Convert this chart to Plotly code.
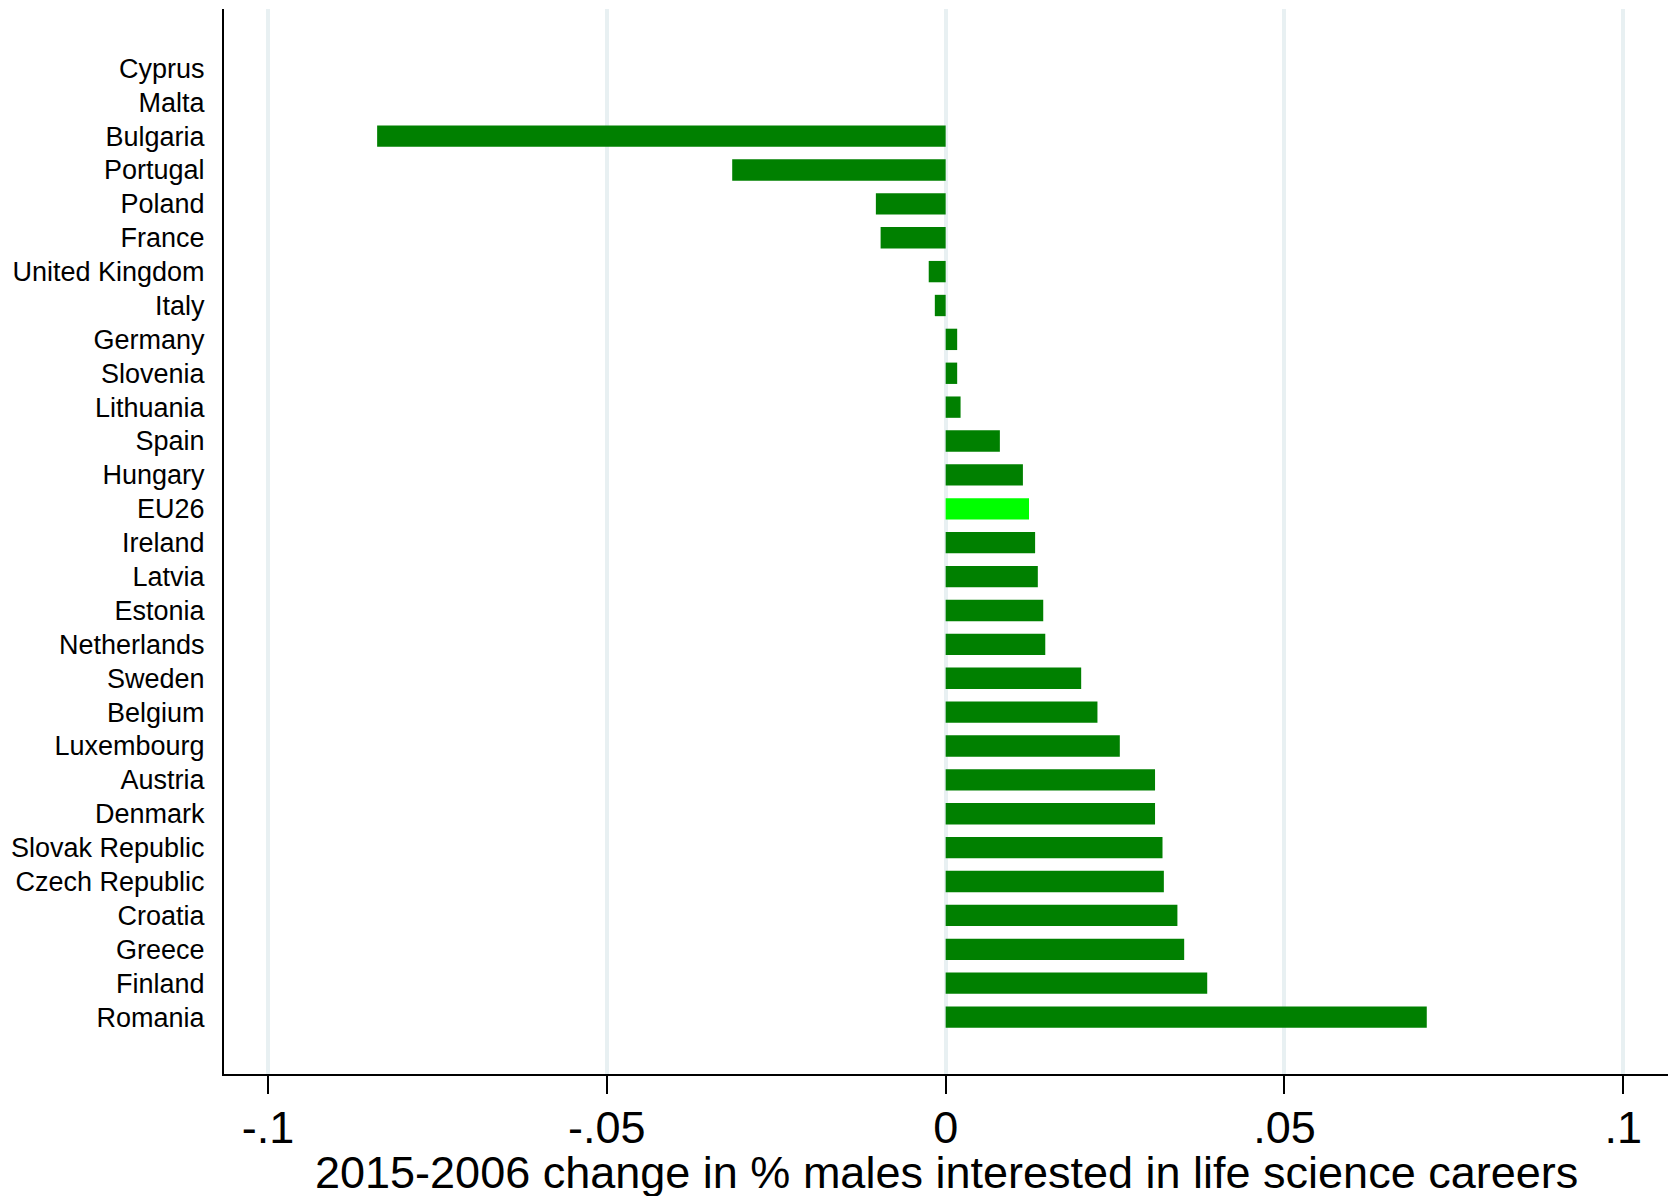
import plotly.graph_objects as go

countries = ["Cyprus", "Malta", "Bulgaria", "Portugal", "Poland", "France", "United Kingdom",
             "Italy", "Germany", "Slovenia", "Lithuania", "Spain", "Hungary", "EU26", "Ireland",
             "Latvia", "Estonia", "Netherlands", "Sweden", "Belgium", "Luxembourg", "Austria",
             "Denmark", "Slovak Republic", "Czech Republic", "Croatia", "Greece", "Finland", "Romania"]
values = [None, None, -0.0839, -0.0315, -0.0103, -0.0096, -0.0025,
          -0.0016, 0.0017, 0.0017, 0.0022, 0.0080, 0.0114, 0.0123, 0.0132,
          0.0136, 0.0144, 0.0147, 0.0200, 0.0224, 0.0257, 0.0309,
          0.0309, 0.0320, 0.0322, 0.0342, 0.0352, 0.0386, 0.0710]
x_ticks = [-0.1, -0.05, 0, 0.05, 0.1]
x_tick_labels = ["-.1", "-.05", "0", ".05", ".1"]
x_title = "2015-2006 change in % males interested in life science careers"

colors = ["#00ff00" if c == "EU26" else "#008000" for c in countries]

fig = go.Figure(go.Bar(
    x=values, y=countries, orientation="h",
    marker=dict(color=colors, line=dict(width=0)),
    width=0.63,
))

font_family = "Liberation Sans, Arial, sans-serif"
# page body has an 8px margin, so the figure is sized/offset to compensate
fig.update_layout(
    width=1669, height=1188,
    margin=dict(l=216, r=9, t=1, b=122),
    paper_bgcolor="white", plot_bgcolor="white",
    showlegend=False,
    font=dict(family=font_family, color="black"),
    annotations=[dict(
        text=x_title, xref="paper", yref="paper", x=0.5, y=0,
        xanchor="center", yanchor="middle", yshift=-98, showarrow=False,
        font=dict(size=45, family=font_family, color="black"),
    )],
)
fig.update_xaxes(
    range=[-0.1065, 0.1066], automargin=False,
    tickvals=x_ticks, ticktext=x_tick_labels,
    tickfont=dict(size=45, family=font_family, color="black"),
    ticks="outside", ticklen=18, tickwidth=1.5, tickcolor="black",
    ticklabelstandoff=-5,
    showgrid=True, gridcolor="#e8f0f2", gridwidth=3.5,
    zeroline=False,
    showline=True, linecolor="black", linewidth=2,
)
fig.update_yaxes(
    type="category", categoryorder="array", categoryarray=countries,
    range=[29.68, -1.75], automargin=False,
    tickfont=dict(size=27, family=font_family, color="black"),
    ticks="", ticklabelstandoff=12,
    showgrid=False, zeroline=False,
    showline=True, linecolor="black", linewidth=2,
)

fig.write_html("out.html")
